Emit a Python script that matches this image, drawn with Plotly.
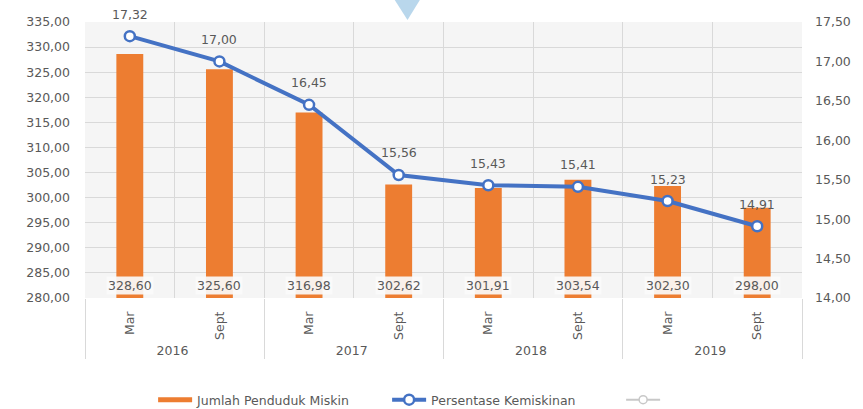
import plotly.graph_objects as go

# Poverty data, Indonesia-style comma decimals
years = ["2016", "2016", "2017", "2017", "2018", "2018", "2019", "2019"]
months = ["Mar", "Sept", "Mar", "Sept", "Mar", "Sept", "Mar", "Sept"]
jumlah_miskin = [328.60, 325.60, 316.98, 302.62, 301.91, 303.54, 302.30, 298.00]
persentase = [17.32, 17.00, 16.45, 15.56, 15.43, 15.41, 15.23, 14.91]

ORANGE = "#ED7D31"
BLUE = "#4472C4"
TXT = "#595959"
GRID = "#d9d9d9"
FONT = "DejaVu Sans, Verdana, sans-serif"
FS = 12.5

x_cat = [years, months]

fig = go.Figure()

fig.add_trace(go.Bar(
    x=x_cat, y=jumlah_miskin, base=0,
    name="Jumlah Penduduk Miskin",
    marker=dict(color=ORANGE, line=dict(width=0)),
    width=0.3,
    yaxis="y", showlegend=False,
))

# legend key for the bars, drawn as a thick orange stroke
fig.add_trace(go.Scatter(
    x=x_cat, y=[None] * len(months),
    name="Jumlah Penduduk Miskin",
    mode="lines",
    line=dict(color=ORANGE, width=5),
    yaxis="y",
))

fig.add_trace(go.Scatter(
    x=x_cat, y=persentase,
    name="Persentase Kemiskinan",
    mode="lines+markers",
    line=dict(color=BLUE, width=4),
    marker=dict(symbol="circle", size=10, color="white",
                line=dict(color=BLUE, width=2.5)),
    yaxis="y2",
))

# empty third series shown only in the legend
fig.add_trace(go.Scatter(
    x=x_cat, y=[None] * len(months),
    name=" ",
    mode="lines+markers",
    line=dict(color="#c8c8c8", width=2),
    marker=dict(symbol="circle", size=8, color="white",
                line=dict(color="#c8c8c8", width=1.5)),
    yaxis="y2",
))

annotations = []
for i, v in enumerate(jumlah_miskin):
    annotations.append(dict(
        x=i, y=280, xref="x", yref="y",
        text=f"{v:.2f}".replace(".", ","),
        showarrow=False, yanchor="middle", yshift=13,
        font=dict(family=FONT, size=FS, color=TXT),
        bgcolor="rgba(250,250,250,0.92)", borderpad=1,
    ))
for i, v in enumerate(persentase):
    annotations.append(dict(
        x=i, y=v, xref="x", yref="y2",
        text=f"{v:.2f}".replace(".", ","),
        showarrow=False, yanchor="middle", yshift=22,
        font=dict(family=FONT, size=FS, color=TXT),
    ))

fig.update_layout(
    width=863, height=409,
    margin=dict(l=85, r=61, t=22, b=111, autoexpand=False),
    paper_bgcolor="white",
    plot_bgcolor="#f5f5f5",
    separators=",.",
    font=dict(family=FONT, size=FS, color=TXT),
    bargap=0.7,
    showlegend=True,
    legend=dict(orientation="h", x=0.095, xanchor="left",
                yref="container", y=0.022, yanchor="middle",
                font=dict(family=FONT, size=FS, color=TXT),
                itemwidth=34, entrywidth=185, entrywidthmode="pixels",
                bgcolor="rgba(0,0,0,0)"),
    xaxis=dict(
        type="multicategory",
        tickson="boundaries",
        showgrid=True, gridcolor=GRID, gridwidth=1,
        showdividers=True, dividercolor=GRID, dividerwidth=1,
        tickangle=-90,
        ticks="", showline=False, zeroline=False,
        automargin=False,
        ticklabelstandoff=10,
        tickfont=dict(family=FONT, size=FS, color=TXT),
    ),
    yaxis=dict(
        range=[280, 335], dtick=5, tick0=280,
        tickformat=".2f",
        showgrid=True, gridcolor=GRID, gridwidth=1,
        zeroline=False, showline=False, ticks="",
        automargin=False,
        ticklabelstandoff=14,
        tickfont=dict(family=FONT, size=FS, color=TXT),
    ),
    yaxis2=dict(
        range=[14, 17.5], dtick=0.5, tick0=14,
        tickformat=".2f",
        overlaying="y", side="right",
        showgrid=False, zeroline=False, showline=False, ticks="",
        automargin=False,
        ticklabelstandoff=12,
        tickfont=dict(family=FONT, size=FS, color=TXT),
    ),
    annotations=annotations,
    shapes=[dict(
        type="path", xref="paper", yref="paper",
        path="M 0.432,1.0797 L 0.467,1.0797 L 0.4498,1.0072 Z",
        fillcolor="#b9d7ec", line=dict(width=0), layer="above",
    )],
)

fig.write_html("out.html")
